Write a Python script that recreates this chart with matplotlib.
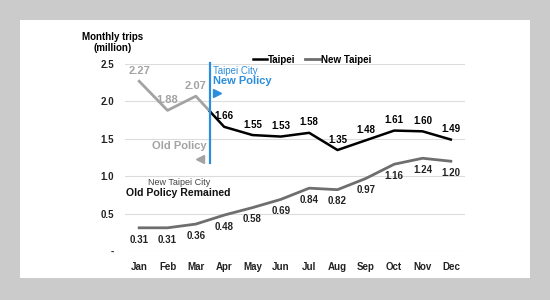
import numpy as np
import matplotlib.pyplot as plt
from matplotlib.patches import Rectangle

plt.rcParams['font.family'] = ['Liberation Sans', 'DejaVu Sans']

# --- Data ---
months = ['Jan', 'Feb', 'Mar', 'Apr', 'May', 'Jun',
          'Jul', 'Aug', 'Sep', 'Oct', 'Nov', 'Dec']
taipei = [2.27, 1.88, 2.07, 1.66, 1.55, 1.53, 1.58, 1.35, 1.48, 1.61, 1.60, 1.49]
new_taipei = [0.31, 0.31, 0.36, 0.48, 0.58, 0.69, 0.84, 0.82, 0.97, 1.16, 1.24, 1.20]
policy_change = 2.5  # between Mar and Apr

blue = '#2b8ddb'
old_gray = '#a3a3a3'
nt_gray = '#6e6e6e'

fig = plt.figure(figsize=(5.5, 3.0), dpi=100)
fig.patch.set_facecolor('#cbcbcb')
fig.patches.append(Rectangle((20 / 550, 1 - 278 / 300), 510 / 550, 258 / 300,
                             transform=fig.transFigure, facecolor='white',
                             edgecolor='none', zorder=-5))

ax = fig.add_axes([125 / 550, 1 - 251 / 300, 340 / 550, 187 / 300])
ax.set_facecolor('none')
ax.set_zorder(5)

x = np.arange(len(months))
cut_val = np.interp(policy_change, x, taipei)

# Taipei: old policy part in light gray, new policy part in black
old_x = list(x[x < policy_change]) + [policy_change]
old_y = list(np.array(taipei)[x < policy_change]) + [cut_val]
new_x = [policy_change] + list(x[x > policy_change])
new_y = [cut_val] + list(np.array(taipei)[x > policy_change])
ax.plot(old_x, old_y, color=old_gray, lw=2, zorder=3)
ax.plot(new_x, new_y, color='black', lw=1.8, zorder=3, label='Taipei')
ax.plot(x, new_taipei, color=nt_gray, lw=2, zorder=3, label='New Taipei')

# value labels
for xi, v in zip(x, taipei):
    if xi < policy_change:
        ax.annotate(f'{v:.2f}', (xi, v), xytext=(0, 7.5), textcoords='offset points',
                    ha='center', va='center', fontsize=8, color=old_gray, fontweight='bold')
    else:
        ax.annotate(f'{v:.2f}', (xi, v), xytext=(0, 7.5), textcoords='offset points',
                    ha='center', va='center', fontsize=7, color='black', fontweight='bold')
for xi, v in zip(x, new_taipei):
    ax.annotate(f'{v:.2f}', (xi, v), xytext=(0, -8.5), textcoords='offset points',
                ha='center', va='center', fontsize=7, color='#222222', fontweight='bold')

# policy line and notes
ax.plot([policy_change, policy_change], [1.17, 2.52], color=blue, lw=1.6,
        zorder=4, clip_on=False)
ax.text(2.62, 2.40, 'Taipei City', color=blue, fontsize=7, va='center', ha='left')
ax.text(2.62, 2.27, 'New Policy', color=blue, fontsize=8, fontweight='bold',
        va='center', ha='left')
ax.plot([2.75], [2.11], marker='>', color=blue, markersize=6, clip_on=False)
ax.text(2.38, 1.40, 'Old Policy', color=old_gray, fontsize=8, fontweight='bold',
        va='center', ha='right')
ax.plot([2.15], [1.23], marker='<', color=old_gray, markersize=6, clip_on=False)
ax.text(1.4, 0.91, 'New Taipei City', color='#444444', fontsize=6.5,
        va='center', ha='center')
ax.text(-0.45, 0.78, 'Old Policy Remained', color='#111111', fontsize=7.6,
        fontweight='bold', va='center', ha='left')

# axes styling
ax.set_xlim(-0.5, len(months) - 0.5)
ax.set_ylim(0, 2.5)
ax.set_xticks(x)
ax.set_xticklabels(months, fontsize=7, fontweight='bold', color='#222222')
ax.set_yticks([0, 0.5, 1.0, 1.5, 2.0, 2.5])
ax.set_yticklabels(['-', '0.5', '1.0', '1.5', '2.0', '2.5'], fontsize=7,
                   fontweight='bold', color='#222222')
ax.tick_params(length=0, pad=8)
ax.grid(axis='y', color='#dcdcdc', lw=0.8)
ax.set_axisbelow(True)
for s in ax.spines.values():
    s.set_visible(False)

leg = ax.legend(loc='lower center', bbox_to_anchor=(0.55, 0.975), ncol=2,
                frameon=False, fontsize=7, handlelength=1.5, handletextpad=0.1,
                columnspacing=1.0, borderaxespad=0)
for t in leg.get_texts():
    t.set_fontweight('bold')

fig.text(113 / 550, 1 - 37 / 300, 'Monthly trips', ha='center', va='center',
         fontsize=7, fontweight='bold')
fig.text(113 / 550, 1 - 48 / 300, '(million)', ha='center', va='center',
         fontsize=7, fontweight='bold')

fig.savefig('out.png', dpi=100, facecolor=fig.get_facecolor())
